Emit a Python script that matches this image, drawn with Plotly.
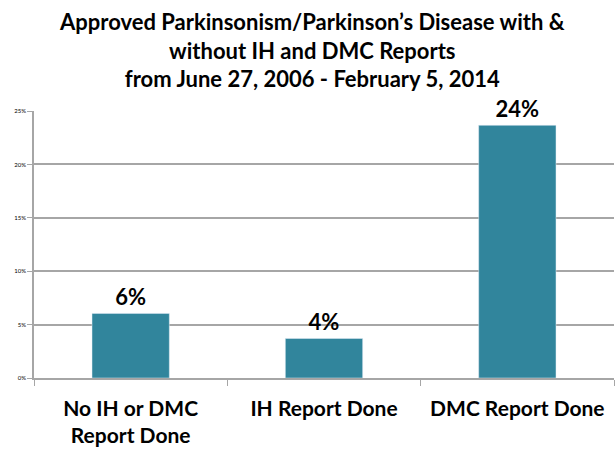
import plotly.graph_objects as go

categories = ["No IH or DMC<br>Report Done", "IH Report Done", "DMC Report Done"]
values = [6.05, 3.7, 23.66]
labels = ["6%", "4%", "24%"]
tick_vals = [0, 5, 10, 15, 20, 25]
tick_text = ["0%", "5%", "10%", "15%", "20%", "25%"]
title_text = ("Approved Parkinsonism/Parkinson’s Disease with &<br>"
              "without IH and DMC Reports<br>"
              "from June 27, 2006 - February 5, 2014")

fig = go.Figure(go.Bar(
    x=categories, y=values, text=labels, textposition="outside",
    textfont=dict(family="Lato", size=22, color="black", weight="bold"),
    marker=dict(color="#31859C"), cliponaxis=False, width=0.4,
    hoverinfo="skip",
))

fig.update_layout(
    width=615, height=452,
    margin=dict(l=34, r=1, t=111, b=74),
    plot_bgcolor="white", paper_bgcolor="white",
    showlegend=False,
    uniformtext=dict(mode=False),
    annotations=[dict(
        text=title_text, xref="paper", yref="paper",
        x=0.48, y=1.393, xanchor="center", yanchor="top", showarrow=False,
        font=dict(family="Lato", size=22, color="black", weight="bold"),
    )],
)
fig.update_yaxes(
    range=[0, 25], tickvals=tick_vals, ticktext=tick_text,
    showgrid=True, gridcolor="#A6A6A6", gridwidth=1.5,
    showline=True, linecolor="#A6A6A6", linewidth=1.5,
    ticks="outside", ticklen=5, tickcolor="#A6A6A6",
    tickfont=dict(family="Lato", size=6, color="black"),
    zeroline=False, automargin=False,
)
fig.update_xaxes(
    showline=True, linecolor="#A6A6A6", linewidth=1.5,
    ticks="outside", tickson="boundaries", ticklen=6, tickcolor="#A6A6A6",
    tickfont=dict(family="Lato", size=21, color="black", weight="bold"),
    ticklabelstandoff=11, automargin=False,
)

fig.write_html("out.html", config={"displayModeBar": False},
               post_script="document.body.style.margin='0';")
